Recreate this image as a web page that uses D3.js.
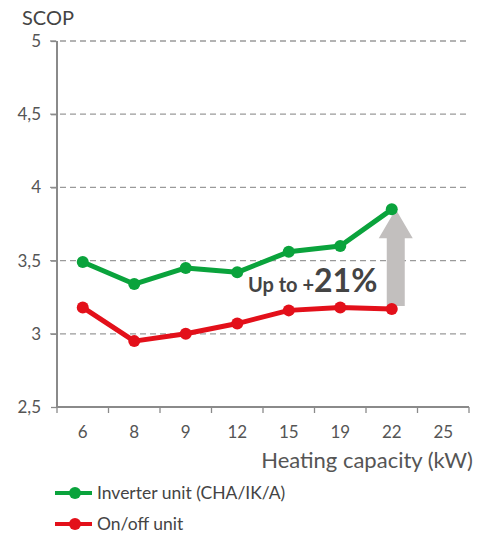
<!DOCTYPE html>
<html>
<head>
<meta charset="utf-8">
<script src="https://cdn.jsdelivr.net/npm/d3@7"></script>
<style>
  body { margin: 0; background: #fff; }
  text { font-family: Lato, "Open Sans", sans-serif; }
</style>
</head>
<body>
<div id="chart"></div>
<script>
// categories and series
const capacities = ["6", "8", "9", "12", "15", "19", "22", "25"];
const inverter = [3.49, 3.34, 3.45, 3.42, 3.56, 3.60, 3.85];
const onoff = [3.18, 2.95, 3.00, 3.07, 3.16, 3.18, 3.17];
const yTicks = [2.5, 3, 3.5, 4, 4.5, 5];

const W = 477, H = 535;
const margin = {top: 41, right: 8, bottom: 128, left: 57};
const width = W - margin.left - margin.right,
      height = H - margin.top - margin.bottom;

const svg = d3.select("#chart")
  .append("svg")
    .attr("width", W)
    .attr("height", H)
  .append("g")
    .attr("transform", `translate(${margin.left},${margin.top})`);

const x = d3.scaleBand()
  .domain(capacities)
  .range([0, width]);

const y = d3.scaleLinear()
  .domain([2.5, 5])
  .range([height, 0]);

const fmt = d => d3.format(".1~f")(d).replace(".", ",");

// dashed gridlines
svg.append("g")
  .selectAll("line")
  .data(yTicks.filter(d => d > 2.5))
  .join("line")
    .attr("x1", -7)
    .attr("x2", width)
    .attr("y1", d => y(d))
    .attr("y2", d => y(d))
    .style("stroke", "#9a9a9a")
    .style("stroke-width", 1.3)
    .style("stroke-dasharray", "6,4");

// y axis
const yAxis = svg.append("g")
  .call(d3.axisLeft(y).tickValues(yTicks).tickFormat(fmt).tickSize(6).tickPadding(10));
yAxis.select(".domain").style("stroke", "#8a8a8a").style("stroke-width", 2).attr("d", `M0,${height}V0`);
yAxis.selectAll(".tick line").style("stroke", "#8a8a8a").style("stroke-width", 1.3);
yAxis.selectAll(".tick text").style("font-size", "17px").style("fill", "#555").style("font-family", "Lato, sans-serif");

// x axis
const xAxis = svg.append("g")
  .attr("transform", `translate(0,${height})`)
  .call(d3.axisBottom(x).tickSize(0).tickPadding(19));
xAxis.select(".domain").style("stroke", "#8a8a8a").style("stroke-width", 2).attr("d", `M0,0H${width}`);
xAxis.selectAll(".tick text").style("font-size", "17px").style("fill", "#555").style("font-family", "Lato, sans-serif");

// x tick marks at band boundaries
svg.append("g")
  .selectAll("line")
  .data(capacities.concat(["end"]))
  .join("line")
    .attr("x1", (d, i) => i * x.step())
    .attr("x2", (d, i) => i * x.step())
    .attr("y1", height)
    .attr("y2", height + 6)
    .style("stroke", "#8a8a8a")
    .style("stroke-width", 1.3);

// axis titles
svg.append("text")
  .attr("x", -35)
  .attr("y", -16)
  .style("font-size", "20px")
  .style("fill", "#444")
  .text("SCOP");

svg.append("text")
  .attr("text-anchor", "end")
  .attr("x", width + 4)
  .attr("y", height + 61)
  .style("font-size", "22px")
  .style("fill", "#555")
  .text("Heating capacity (kW)");

// arrow from on/off to inverter at last point
const last = inverter.length - 1;
const ax = x(capacities[last]) + x.bandwidth() / 2 + 4;
const yTop = y(inverter[last]), yBot = y(onoff[last]) - 3;
const headH = 29, headW = 17, shaftW = 9;
svg.append("path")
  .attr("d", `M${ax},${yTop}L${ax + headW},${yTop + headH}L${ax + shaftW},${yTop + headH}L${ax + shaftW},${yBot}L${ax - shaftW},${yBot}L${ax - shaftW},${yTop + headH}L${ax - headW},${yTop + headH}Z`)
  .style("fill", "#c2bfbe");

// lines
const line = d3.line()
  .x((d, i) => x(capacities[i]) + x.bandwidth() / 2)
  .y(d => y(d));

const series = [
  {name: "Inverter unit (CHA/IK/A)", values: inverter, color: "#0aa33c"},
  {name: "On/off unit", values: onoff, color: "#e3101a"}
];

series.forEach(s => {
  svg.append("path")
    .datum(s.values)
    .attr("d", line)
    .style("fill", "none")
    .style("stroke", s.color)
    .style("stroke-width", 5)
    .style("stroke-linejoin", "round");
  svg.append("g")
    .selectAll("circle")
    .data(s.values)
    .join("circle")
      .attr("cx", (d, i) => x(capacities[i]) + x.bandwidth() / 2)
      .attr("cy", d => y(d))
      .attr("r", 6)
      .style("fill", s.color);
});

// annotation
const ann = svg.append("text")
  .attr("x", 191)
  .attr("y", 251)
  .style("font-weight", "bold")
  .style("fill", "#444");
ann.append("tspan").style("font-size", "20px").text("Up to +");
ann.append("tspan").style("font-size", "32px").text("21%");

// legend
const legend = svg.append("g")
  .attr("transform", `translate(0,${height + 86})`);
series.forEach((s, i) => {
  const g = legend.append("g").attr("transform", `translate(0,${i * 31})`);
  g.append("line")
    .attr("x1", -2).attr("x2", 35)
    .style("stroke", s.color)
    .style("stroke-width", 4);
  g.append("circle")
    .attr("cx", 18)
    .attr("r", 6)
    .style("fill", s.color);
  g.append("text")
    .attr("x", 40)
    .attr("dy", "0.35em")
    .style("font-size", "17.5px")
    .style("fill", "#444")
    .text(s.name);
});
</script>
</body>
</html>
